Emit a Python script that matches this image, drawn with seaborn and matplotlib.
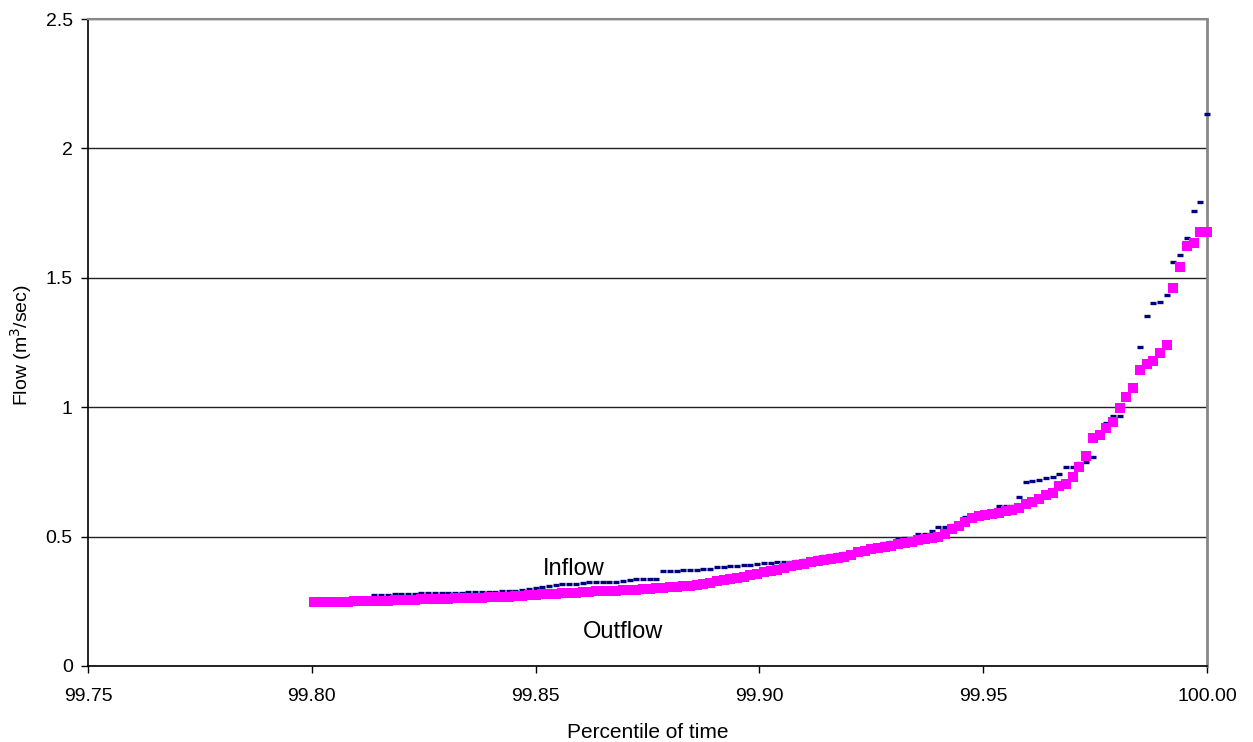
import matplotlib
matplotlib.use("Agg")
import matplotlib.pyplot as plt
import seaborn as sns
import pandas as pd

percentile = [
    99.8005, 99.8020, 99.8035, 99.8050, 99.8065, 99.8080, 99.8095, 99.8110, 99.8125, 99.8140,
    99.8155, 99.8170, 99.8185, 99.8200, 99.8215, 99.8230, 99.8245, 99.8260, 99.8275, 99.8290,
    99.8305, 99.8320, 99.8335, 99.8350, 99.8365, 99.8380, 99.8395, 99.8410, 99.8425, 99.8440,
    99.8455, 99.8470, 99.8485, 99.8500, 99.8515, 99.8530, 99.8545, 99.8560, 99.8575, 99.8590,
    99.8605, 99.8620, 99.8635, 99.8650, 99.8665, 99.8680, 99.8695, 99.8710, 99.8725, 99.8740,
    99.8755, 99.8770, 99.8785, 99.8800, 99.8815, 99.8830, 99.8845, 99.8860, 99.8875, 99.8890,
    99.8905, 99.8920, 99.8935, 99.8950, 99.8965, 99.8980, 99.8995, 99.9010, 99.9025, 99.9040,
    99.9055, 99.9070, 99.9085, 99.9100, 99.9115, 99.9130, 99.9145, 99.9160, 99.9175, 99.9190,
    99.9205, 99.9220, 99.9235, 99.9250, 99.9265, 99.9280, 99.9295, 99.9310, 99.9325, 99.9340,
    99.9355, 99.9370, 99.9385, 99.9400, 99.9415, 99.9430, 99.9445, 99.9460, 99.9475, 99.9490,
    99.9505, 99.9520, 99.9535, 99.9550, 99.9565, 99.9580, 99.9595, 99.9610, 99.9625, 99.9640,
    99.9655, 99.9670, 99.9685, 99.9700, 99.9715, 99.9730, 99.9745, 99.9760, 99.9775, 99.9790,
    99.9805, 99.9820, 99.9835, 99.9850, 99.9865, 99.9880, 99.9895, 99.9910, 99.9925, 99.9940,
    99.9955, 99.9970, 99.9985, 100.0000,
]

inflow = [
    0.246, 0.247, 0.248, 0.249, 0.249, 0.250, 0.251, 0.252, 0.255, 0.274,
    0.275, 0.276, 0.277, 0.278, 0.279, 0.280, 0.281, 0.282, 0.282, 0.283,
    0.283, 0.284, 0.284, 0.285, 0.285, 0.286, 0.286, 0.287, 0.288, 0.289,
    0.291, 0.294, 0.298, 0.302, 0.306, 0.310, 0.314, 0.316, 0.317, 0.318,
    0.320, 0.323, 0.324, 0.325, 0.325, 0.326, 0.327, 0.334, 0.335, 0.336,
    0.337, 0.338, 0.367, 0.368, 0.369, 0.370, 0.371, 0.372, 0.374, 0.375,
    0.383, 0.384, 0.386, 0.388, 0.390, 0.392, 0.394, 0.398, 0.398, 0.400,
    0.400, 0.403, 0.405, 0.408, 0.410, 0.420, 0.424, 0.430, 0.433, 0.436,
    0.440, 0.445, 0.452, 0.460, 0.465, 0.475, 0.480, 0.490, 0.494, 0.494,
    0.510, 0.510, 0.520, 0.537, 0.537, 0.545, 0.552, 0.576, 0.580, 0.585,
    0.590, 0.600, 0.618, 0.620, 0.620, 0.653, 0.712, 0.716, 0.720, 0.726,
    0.730, 0.742, 0.769, 0.769, 0.784, 0.788, 0.808, 0.900, 0.939, 0.966,
    0.966, 1.040, 1.070, 1.233, 1.352, 1.403, 1.406, 1.433, 1.561, 1.588,
    1.654, 1.758, 1.793, 2.133,
]

outflow = [
    0.246, 0.247, 0.248, 0.248, 0.249, 0.249, 0.250, 0.250, 0.251, 0.252,
    0.253, 0.253, 0.254, 0.255, 0.256, 0.256, 0.257, 0.258, 0.258, 0.259,
    0.260, 0.261, 0.261, 0.262, 0.263, 0.264, 0.265, 0.266, 0.267, 0.268,
    0.270, 0.271, 0.273, 0.275, 0.277, 0.278, 0.280, 0.281, 0.283, 0.284,
    0.286, 0.287, 0.288, 0.289, 0.290, 0.291, 0.293, 0.294, 0.295, 0.296,
    0.298, 0.300, 0.302, 0.304, 0.306, 0.309, 0.311, 0.314, 0.318, 0.322,
    0.327, 0.332, 0.336, 0.340, 0.345, 0.350, 0.356, 0.362, 0.366, 0.372,
    0.378, 0.385, 0.390, 0.396, 0.400, 0.404, 0.408, 0.412, 0.418, 0.422,
    0.430, 0.440, 0.445, 0.452, 0.456, 0.460, 0.465, 0.470, 0.474, 0.478,
    0.485, 0.492, 0.495, 0.500, 0.510, 0.528, 0.540, 0.555, 0.571, 0.578,
    0.585, 0.587, 0.590, 0.598, 0.603, 0.610, 0.625, 0.632, 0.645, 0.660,
    0.668, 0.695, 0.705, 0.730, 0.769, 0.811, 0.881, 0.893, 0.920, 0.943,
    0.997, 1.040, 1.075, 1.145, 1.165, 1.180, 1.210, 1.240, 1.460, 1.540,
    1.622, 1.635, 1.677, 1.677,
]

x_ticks = [99.75, 99.80, 99.85, 99.90, 99.95, 100.00]
y_ticks = [0, 0.5, 1, 1.5, 2, 2.5]
y_tick_labels = ["0", "0.5", "1", "1.5", "2", "2.5"]

sns.set_theme(style="white")
plt.rcParams["font.family"] = ["Liberation Sans", "DejaVu Sans"]

df = pd.DataFrame({"percentile": percentile, "Inflow": inflow, "Outflow": outflow})

W, H = 1253, 742
fig = plt.figure(figsize=(W / 100, H / 100), dpi=100)
ax_w = 1207 - 88
ax_h = 666 - 19
ax = fig.add_axes([88 / W, 1 - 666 / H, ax_w / W, ax_h / H])

sns.scatterplot(data=df, x="percentile", y="Inflow", ax=ax, marker="_",
                s=22, linewidth=2.4, color="#000080", zorder=3, legend=False)
sns.scatterplot(data=df, x="percentile", y="Outflow", ax=ax, marker="s",
                s=58, linewidth=0, color="#FF00FF", zorder=4, legend=False)
for coll in ax.collections:
    coll.set_clip_on(False)

ax.set_xlim(99.75, 100.0)
ax.set_ylim(0, 2.5)
ax.set_xticks(x_ticks)
ax.set_xticklabels([f"{v:.2f}" for v in x_ticks])
ax.set_yticks(y_ticks)
ax.set_yticklabels(y_tick_labels)

ax.yaxis.grid(True, color="#222222", linewidth=1)
ax.xaxis.grid(False)
ax.set_axisbelow(True)

ax.tick_params(axis="both", direction="out", length=5, width=1, color="black",
               labelsize=14, labelcolor="black", bottom=True, left=True)
ax.tick_params(axis="x", pad=11)
ax.tick_params(axis="y", pad=6)

for side in ["left", "bottom"]:
    ax.spines[side].set_color("black")
    ax.spines[side].set_linewidth(1.2)
ax.spines["top"].set_color("#888888")
ax.spines["top"].set_linewidth(1.5)
ax.spines["right"].set_color("#888888")
ax.spines["right"].set_linewidth(2)

ax.set_xlabel("Percentile of time", fontsize=15, color="black")
ax.set_ylabel("Flow (m$^3$/sec)", fontsize=14, color="black")
ax.xaxis.set_label_coords((648 - 88) / ax_w, (666 - 733) / ax_h)
ax.yaxis.set_label_coords((21 - 88) / ax_w, (666 - 345) / ax_h)
ax.xaxis.label.set_va("center")
ax.yaxis.label.set_va("center")

ax.text(99.8586, 0.375, "Inflow", fontsize=17, ha="center", va="center", color="black")
ax.text(99.8695, 0.131, "Outflow", fontsize=17, ha="center", va="center", color="black")

fig.savefig("out.png", dpi=100)
